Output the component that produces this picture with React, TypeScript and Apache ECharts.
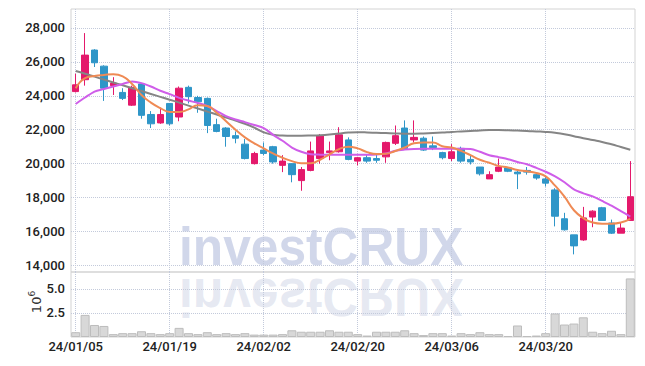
import React, { useEffect, useRef } from "react";
import * as echarts from "echarts";

const dates = [
  "24/01/05", "24/01/08", "24/01/09", "24/01/10", "24/01/11", "24/01/12", "24/01/15", "24/01/16", "24/01/17", "24/01/18",
  "24/01/19", "24/01/22", "24/01/23", "24/01/24", "24/01/25", "24/01/26", "24/01/29", "24/01/30", "24/01/31", "24/02/01",
  "24/02/02", "24/02/05", "24/02/06", "24/02/07", "24/02/08", "24/02/13", "24/02/14", "24/02/15", "24/02/16", "24/02/19",
  "24/02/20", "24/02/21", "24/02/22", "24/02/23", "24/02/26", "24/02/27", "24/02/28", "24/02/29", "24/03/04", "24/03/05",
  "24/03/06", "24/03/07", "24/03/08", "24/03/11", "24/03/12", "24/03/13", "24/03/14", "24/03/15", "24/03/18", "24/03/19",
  "24/03/20", "24/03/21", "24/03/22", "24/03/25", "24/03/26", "24/03/27", "24/03/28", "24/03/29", "24/04/01", "24/04/02",
];

const opens = [
  24250, 24950, 26700, 25750, 24600, 24200, 23450, 24700, 22900, 22400,
  23550, 22750, 24500, 23900, 23850, 22300, 22100, 21650, 21150, 20000,
  20800, 21000, 19900, 20000, 19000, 19600, 20300, 20650, 20700, 21400,
  20150, 20350, 20300, 20400, 21200, 22100, 21400, 21500, 21050, 20650,
  20300, 20900, 20250, 19800, 19100, 19550, 19750, 19500, 19600, 19350,
  19100, 18450, 16750, 15800, 15500, 16850, 17400, 16500, 15900, 16650,
];
const closes = [
  24650, 26400, 25950, 24450, 24750, 23850, 24500, 22850, 22350, 22900,
  22350, 24450, 23950, 23650, 22250, 21900, 21600, 21500, 20300, 20600,
  20600, 20100, 20150, 19350, 19650, 20750, 21650, 20750, 21700, 20250,
  20350, 20150, 20200, 21250, 21650, 20900, 21550, 20800, 20950, 20350,
  20700, 20150, 20100, 19400, 19350, 19800, 19550, 19400, 19500, 19150,
  18850, 16900, 16100, 15150, 16800, 17200, 16650, 15900, 16200, 18050,
];
const lows = [
  24200, 24600, 25700, 23700, 24050, 23750, 23400, 22650, 22100, 22350,
  22250, 22500, 23550, 23000, 21800, 21850, 21000, 21200, 20250, 19950,
  20500, 20000, 19500, 18900, 18400, 19550, 20000, 20200, 20650, 20200,
  19900, 20050, 20050, 20050, 21100, 20850, 21250, 20750, 20800, 20250,
  20150, 20050, 19950, 19300, 19100, 19500, 19500, 18500, 19350, 19050,
  18650, 16300, 16050, 14650, 15450, 16250, 16650, 15850, 15900, 16650,
];
const highs = [
  25300, 27700, 26750, 25800, 25100, 24450, 24600, 24750, 23100, 23300,
  23550, 24550, 24600, 24000, 23900, 22650, 22150, 21900, 21450, 20700,
  21250, 21050, 20500, 20000, 19800, 21300, 21750, 21300, 22150, 21550,
  20400, 20550, 20550, 21300, 22250, 22550, 22550, 21600, 21600, 20700,
  21150, 21000, 20450, 19800, 19550, 20300, 19800, 19600, 19800, 19400,
  19250, 18550, 17100, 15800, 17450, 17250, 17450, 16700, 16500, 20150,
];

const maShort = [
  24450, 25050, 25170, 25230, 25270, 25150, 24700, 24050, 23600, 23280,
  23050, 23050, 23200, 23450, 23400, 23000, 22500, 22000, 21550, 21200,
  20900, 20600, 20350, 20150, 20030, 20030, 20230, 20550, 20850, 21000,
  20900, 20680, 20570, 20580, 20750, 20950, 21200, 21250, 21250, 21030,
  20950, 20750, 20500, 20230, 20050, 19870, 19770, 19620, 19550, 19450,
  19250, 18700, 18050, 17250, 16790, 16530, 16460, 16460, 16530, 16750,
];
const maMid = [
  23520, 23900, 24250, 24400, 24550, 24700, 24850, 24750, 24550, 24300,
  24100, 23880, 23720, 23580, 23400, 23100, 22800, 22600, 22450, 22280,
  22100, 21700, 21350, 20950, 20700, 20560, 20530, 20525, 20525, 20525,
  20530, 20530, 20540, 20600, 20760, 20830, 20870, 20880, 20880, 20880,
  20880, 20880, 20870, 20700, 20500, 20380, 20260, 20100, 19960, 19750,
  19520, 19250, 18900, 18480, 18250, 18070, 17800, 17520, 17200, 16880,
];
const maLong = [
  25460, 25300, 25130, 24960, 24790, 24620, 24450, 24280, 24110, 23940,
  23770, 23600, 23420, 23250, 23070, 22900, 22720, 22540, 22350, 22120,
  21850, 21700, 21660, 21650, 21650, 21660, 21680, 21720, 21780, 21830,
  21850, 21840, 21820, 21800, 21780, 21770, 21770, 21780, 21800, 21830,
  21870, 21900, 21930, 21960, 21980, 21980, 21970, 21950, 21930, 21900,
  21870, 21820, 21740, 21620, 21500, 21390, 21280, 21140, 20980, 20820,
];

const volumes = [
  0.5, 2.3, 1.25, 1.15, 0.3, 0.4, 0.4, 0.6, 0.4, 0.3,
  0.4, 0.95, 0.4, 0.3, 0.5, 0.3, 0.4, 0.3, 0.4, 0.25,
  0.25, 0.25, 0.3, 0.7, 0.55, 0.55, 0.55, 0.7, 0.55, 0.55,
  0.3, 0.15, 0.55, 0.55, 0.55, 0.7, 0.4, 0.2, 0.4, 0.4,
  0.15, 0.4, 0.3, 0.5, 0.3, 0.3, 0.1, 1.2, 0.1, 0.15,
  0.4, 2.45, 1.3, 1.4, 2.05, 0.55, 0.4, 0.65, 0.3, 6.1,
];

const priceTicks = [14000, 16000, 18000, 20000, 22000, 24000, 26000, 28000];
const volumeTicks = [2500000, 5000000];
const volumeUnit = "{b|10}{s|6}";

const UP = "#e4196b";
const DOWN = "#2f96c8";
const FONT = "Roboto, 'DejaVu Sans', sans-serif";
const GRID_LINE = { type: "dotted" as const, color: "#c3cadb", width: 1 };

export default function App() {
  const ref = useRef<HTMLDivElement>(null);
  useEffect(() => {
    if (!ref.current) return;
    const chart = echarts.init(ref.current, undefined, { renderer: "svg" });
    const candles = dates.map((_, i) => [opens[i], closes[i], lows[i], highs[i]]);
    const vols = volumes.map((v) => v * 1e6);
    const lineCommon = {
      type: "line" as const,
      xAxisIndex: 0,
      yAxisIndex: 0,
      showSymbol: false,
      symbol: "none",
      silent: true,
    };
    const labelStyle = {
      fontSize: 13,
      fontWeight: 500,
      color: "#222",
      fontFamily: FONT,
    };
    chart.setOption({
      animation: false,
      backgroundColor: "#ffffff",
      textStyle: { fontFamily: FONT },
      grid: [
        { left: 71, right: 10, top: 9, height: 263, show: true, borderColor: "#d3d3d3", borderWidth: 1 },
        { left: 71, right: 10, top: 272, height: 65, show: true, borderColor: "#d3d3d3", borderWidth: 1 },
      ],
      graphic: [
        {
          type: "text",
          z: -10,
          silent: true,
          x: 179,
          y: 273,
          scaleX: 0.92,
          style: {
            text: "investCRUX",
            fontFamily: "'Liberation Sans', Arial, sans-serif",
            fontWeight: "bold",
            fontSize: 54,
            fill: "rgba(178,188,220,0.6)",
            verticalAlign: "bottom",
          },
        },
        {
          type: "text",
          z: -10,
          silent: true,
          x: 179,
          y: 271,
          scaleX: 0.92,
          scaleY: -1,
          style: {
            text: "investCRUX",
            fontFamily: "'Liberation Sans', Arial, sans-serif",
            fontWeight: "bold",
            fontSize: 54,
            fill: "rgba(200,206,226,0.45)",
            verticalAlign: "bottom",
          },
        },
        {
          type: "text",
          silent: true,
          x: 36,
          y: 302,
          rotation: Math.PI / 2,
          style: {
            text: volumeUnit,
            align: "center",
            verticalAlign: "middle",
            rich: {
              b: { fontSize: 13, fill: "#333", fontFamily: "'DejaVu Sans', sans-serif" },
              s: { fontSize: 9, fill: "#333", fontFamily: "'DejaVu Sans', sans-serif", verticalAlign: "bottom", padding: [0, 0, 8, 0] },
            },
          },
        },
      ],
      xAxis: [
        {
          type: "category",
          gridIndex: 0,
          data: dates,
          boundaryGap: true,
          axisLine: { show: false },
          axisTick: { show: false },
          axisLabel: { show: false },
          splitLine: { show: true, interval: 9, alignWithLabel: true, lineStyle: GRID_LINE },
        },
        {
          type: "category",
          gridIndex: 1,
          data: dates,
          boundaryGap: true,
          axisLine: { show: false },
          axisTick: { show: false },
          axisLabel: { ...labelStyle, interval: 9, margin: 3 },
          splitLine: { show: true, interval: 9, alignWithLabel: true, lineStyle: GRID_LINE },
        },
      ],
      yAxis: [
        {
          type: "value",
          gridIndex: 0,
          min: 13610,
          max: 29120,
          axisLine: { show: false },
          axisTick: { show: false, customValues: priceTicks },
          axisLabel: {
            ...labelStyle,
            customValues: priceTicks,
            margin: 6,
            padding: [3, 0, 0, 0],
            formatter: (v: number) => v.toLocaleString("en-US"),
          },
          splitLine: { show: true, lineStyle: GRID_LINE },
        },
        {
          type: "value",
          gridIndex: 1,
          min: 0,
          max: 6770000,
          axisLine: { show: false },
          axisTick: { show: false, customValues: volumeTicks },
          axisLabel: {
            ...labelStyle,
            customValues: volumeTicks,
            margin: 6,
            padding: [2, 0, 0, 0],
            formatter: (v: number) => (v / 1e6).toFixed(1),
          },
          splitLine: { show: true, lineStyle: GRID_LINE },
        },
      ],
      series: [
        {
          type: "bar",
          xAxisIndex: 1,
          yAxisIndex: 1,
          data: vols,
          barCategoryGap: "4%",
          silent: true,
          itemStyle: { color: "#d8d8d8", borderColor: "#bdbdbd", borderWidth: 1 },
        },
        {
          type: "candlestick",
          xAxisIndex: 0,
          yAxisIndex: 0,
          data: candles,
          barWidth: 7,
          silent: true,
          z: 3,
          itemStyle: {
            color: UP,
            color0: DOWN,
            borderColor: UP,
            borderColor0: DOWN,
            borderWidth: 1,
          },
        },
        {
          ...lineCommon,
          data: maLong,
          smooth: true,
          z: 4,
          lineStyle: { color: "#858585", width: 2 },
        },
        {
          ...lineCommon,
          data: maMid,
          smooth: 0.3,
          z: 5,
          lineStyle: { color: "#cf5de9", width: 2 },
        },
        {
          ...lineCommon,
          data: maShort,
          smooth: true,
          z: 6,
          lineStyle: { color: "#ef8a54", width: 2 },
        },
      ],
    });
    return () => chart.dispose();
  }, []);
  return (
    <div
      ref={ref}
      style={{ position: "absolute", left: 0, top: 0, width: 645, height: 366 }}
    />
  );
}
